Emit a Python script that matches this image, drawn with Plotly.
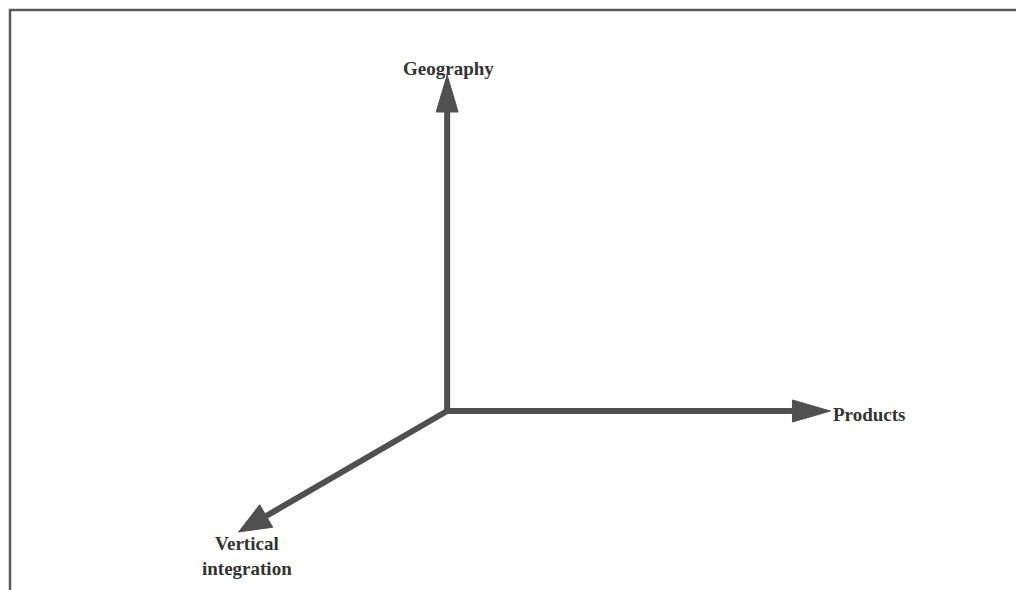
import numpy as np
import plotly.graph_objects as go

# Diagram data (pixel-space coordinates of the 1024x590 canvas)
origin = (446, 411)
axis_labels = ["Geography", "Products", "Vertical<br>integration"]
axis_tips_x = [446, 830, 237]
axis_tips_y = [75, 411, 532]
head_lengths = [37, 38, 32]
head_half_widths = [11, 11, 13]
label_x = [447, 831, 245]
label_y = [68, 414, 556]
label_anchor = ["center", "left", "center"]

frame_x = [8, 8, 1024]
frame_y = [590, 10, 10]

line_color = "#505050"

fig = go.Figure()

# frame (top + left border)
fig.add_trace(go.Scatter(x=frame_x, y=frame_y, mode="lines",
                         line=dict(color="#5a5a5a", width=2.5),
                         hoverinfo="skip", showlegend=False))

ox, oy = origin
for i in range(3):
    tx, ty = axis_tips_x[i], axis_tips_y[i]
    d = np.array([tx - ox, ty - oy], dtype=float)
    L = np.linalg.norm(d)
    u = d / L
    n = np.array([-u[1], u[0]])
    base = np.array([tx, ty]) - u * head_lengths[i]
    # shaft
    fig.add_trace(go.Scatter(x=[ox, base[0]], y=[oy, base[1]], mode="lines",
                             line=dict(color=line_color, width=6),
                             hoverinfo="skip", showlegend=False))
    # head
    hw = head_half_widths[i]
    p1 = base + n * hw
    p2 = base - n * hw
    fig.add_trace(go.Scatter(x=[p1[0], tx, p2[0], p1[0]],
                             y=[p1[1], ty, p2[1], p1[1]],
                             mode="lines", fill="toself",
                             fillcolor=line_color,
                             line=dict(color=line_color, width=1),
                             hoverinfo="skip", showlegend=False))
    fig.add_annotation(x=label_x[i], y=label_y[i], text="<b>" + axis_labels[i] + "</b>",
                       showarrow=False, xanchor=label_anchor[i], yanchor="middle",
                       align="center",
                       font=dict(family="Liberation Serif", size=19, color="#333333"))

# the page body has an 8px margin, so the figure is 1016x582 and its ranges
# start at 8 so that canvas coordinates map onto window pixels
fig.update_xaxes(range=[6, 1024], visible=False, fixedrange=True)
fig.update_yaxes(range=[590, 8], visible=False, fixedrange=True)
fig.update_layout(width=1016, height=582, margin=dict(l=0, r=0, t=0, b=0),
                  plot_bgcolor="white", paper_bgcolor="white")

fig.write_html("out.html", config={"displayModeBar": False})
